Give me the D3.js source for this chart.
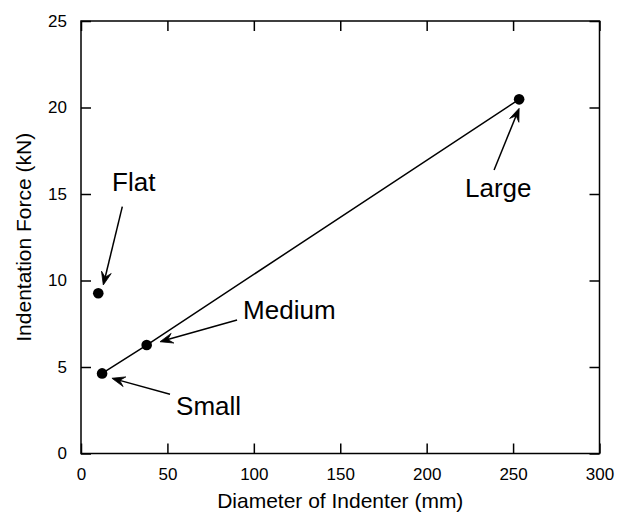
<!DOCTYPE html>
<html><head><meta charset="utf-8">
<script src="https://cdn.jsdelivr.net/npm/d3@7"></script>
<style>body{margin:0;background:#fff}svg{display:block}text{font-family:"Liberation Sans",Arial,Helvetica,sans-serif;fill:#000}</style>
</head><body><svg id="c" width="621" height="521"></svg>
<script>
// Data
const connectedNames = ["Small", "Medium", "Large"];
const connectedX = [12.2, 38.0, 253.5];
const connectedY = [4.63, 6.27, 20.47];
const flatName = "Flat";
const flatX = [10.0];
const flatY = [9.26];
const xTicks = [0, 50, 100, 150, 200, 250, 300];
const yTicks = [0, 5, 10, 15, 20, 25];
// annotations (data units): label, label anchor, arrow start, arrow tip
const annLabels = ["Flat", "Medium", "Small", "Large"];
const annLabelX = [18, 93.8, 55.0, 222.2];
const annLabelY = [15.2, 7.75, 2.23, 14.8];
const annFromX = [23.9, 90.3, 51.5, 239];
const annFromY = [14.27, 7.72, 3.42, 16.39];
const annToX = [12.9, 45.7, 17.9, 253.5];
const annToY = [9.74, 6.46, 4.35, 19.95];

const svg = d3.select("#c");
const L = 81, R = 599.5, T = 21, B = 453.5;
const x = d3.scaleLinear().domain([0, 300]).range([L, R]);
const y = d3.scaleLinear().domain([0, 25]).range([B, T]);

const sw = 1.5;
// frame
svg.append("rect").attr("x", L).attr("y", T).attr("width", R - L).attr("height", B - T)
  .attr("fill", "none").attr("stroke", "#000").attr("stroke-width", sw);

const tl = 10;
const fmt = d3.format("d");
const ax = svg.append("g").attr("transform", `translate(0,${B})`)
  .call(d3.axisBottom(x).tickValues(xTicks).tickSize(-tl).tickPadding(tl + 4).tickFormat(fmt));
const ax2 = svg.append("g").attr("transform", `translate(0,${T})`)
  .call(d3.axisTop(x).tickValues(xTicks).tickSize(-tl).tickFormat(""));
const ay = svg.append("g").attr("transform", `translate(${L},0)`)
  .call(d3.axisLeft(y).tickValues(yTicks).tickSize(-tl).tickPadding(tl + 4).tickFormat(fmt));
const ay2 = svg.append("g").attr("transform", `translate(${R},0)`)
  .call(d3.axisRight(y).tickValues(yTicks).tickSize(-tl).tickFormat(""));
[ax, ax2, ay, ay2].forEach(g => {
  g.select(".domain").remove();
  g.attr("font-size", 17);
  g.selectAll(".tick line").attr("stroke", "#000").attr("stroke-width", sw);
  g.selectAll("text").attr("font-size", 17).attr("fill", "#000")
    .style("font-family", '"Liberation Sans",Arial,sans-serif');
});
ax.selectAll("text").attr("dy", "0.71em");

// axis titles
svg.append("text").attr("x", (L + R) / 2).attr("y", 508).attr("text-anchor", "middle")
  .attr("font-size", 21).text("Diameter of Indenter (mm)");
svg.append("text").attr("transform", `translate(31,${(T + B) / 2}) rotate(-90)`)
  .attr("text-anchor", "middle").attr("font-size", 21).text("Indentation Force (kN)");

// line
const pts = connectedX.map((d, i) => [d, connectedY[i]]);
svg.append("path").datum(pts)
  .attr("d", d3.line().x(d => x(d[0])).y(d => y(d[1])))
  .attr("fill", "none").attr("stroke", "#000").attr("stroke-width", sw);

// points
const allPts = pts.concat(flatX.map((d, i) => [d, flatY[i]]));
svg.selectAll("circle.p").data(allPts).enter().append("circle")
  .attr("cx", d => x(d[0])).attr("cy", d => y(d[1])).attr("r", 5.3).attr("fill", "#000");

// annotations
annLabels.forEach((lab, i) => {
  svg.append("text").attr("x", x(annLabelX[i])).attr("y", y(annLabelY[i]))
    .attr("font-size", 26).text(lab);
  const x0 = x(annFromX[i]), y0 = y(annFromY[i]), x1 = x(annToX[i]), y1 = y(annToY[i]);
  const ang = Math.atan2(y1 - y0, x1 - x0);
  const hl = 13, hw = 5, notch = 8;
  const bx = x1 - hl * Math.cos(ang), by = y1 - hl * Math.sin(ang);
  const nx = x1 - notch * Math.cos(ang), ny = y1 - notch * Math.sin(ang);
  const px = -Math.sin(ang), py = Math.cos(ang);
  svg.append("line").attr("x1", x0).attr("y1", y0).attr("x2", nx).attr("y2", ny)
    .attr("stroke", "#000").attr("stroke-width", sw);
  svg.append("path").attr("d",
    `M${x1},${y1}L${bx + px * hw},${by + py * hw}L${nx},${ny}L${bx - px * hw},${by - py * hw}Z`)
    .attr("fill", "#000").attr("stroke", "#000").attr("stroke-width", 0.8).attr("stroke-linejoin", "miter");
});
</script></body></html>
